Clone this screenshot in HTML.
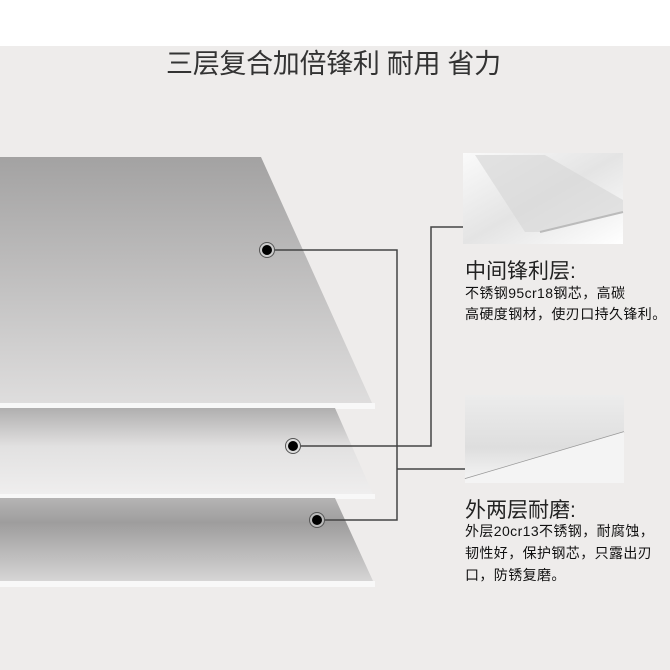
<!DOCTYPE html>
<html><head><meta charset="utf-8"><style>
body{margin:0;width:670px;height:670px;background:#eeeceb;position:relative;overflow:hidden;font-family:"Liberation Sans","Noto Sans CJK SC",sans-serif;}
.t{position:absolute;color:#222;white-space:nowrap}
</style></head><body>
<div style="position:absolute;left:0;top:0;width:670px;height:46px;background:#fff"></div>
<div class="t" style="left:166px;top:42px;font-size:27px;color:#333;letter-spacing:-0.3px">三层复合加倍锋利 耐用 省力</div>
<svg width="670" height="670" style="position:absolute;left:0;top:0">
<defs>
<linearGradient id="g1" x1="0" y1="0" x2="0" y2="1"><stop offset="0" stop-color="#a3a2a2"/><stop offset="1" stop-color="#dedddd"/></linearGradient>
<linearGradient id="g2" x1="0" y1="0" x2="0" y2="1"><stop offset="0" stop-color="#b0afaf"/><stop offset="0.45" stop-color="#e2e1e1"/><stop offset="1" stop-color="#efeeee"/></linearGradient>
<linearGradient id="g3" x1="0" y1="0" x2="0" y2="1"><stop offset="0" stop-color="#b5b4b4"/><stop offset="0.3" stop-color="#9e9d9d"/><stop offset="1" stop-color="#d6d5d5"/></linearGradient>
<linearGradient id="i1" x1="0" y1="0" x2="1" y2="1"><stop offset="0" stop-color="#fafafa"/><stop offset="0.5" stop-color="#e4e4e4"/><stop offset="1" stop-color="#fff"/></linearGradient>
<linearGradient id="i2" x1="0" y1="0" x2="0" y2="1"><stop offset="0" stop-color="#ececec"/><stop offset="0.6" stop-color="#dedede"/><stop offset="1" stop-color="#f6f6f6"/></linearGradient>
</defs>
<rect x="0" y="403" width="375" height="6" fill="#f8f8f8"/>
<rect x="0" y="494" width="375" height="5" fill="#f8f8f8"/>
<rect x="0" y="581" width="375" height="6" fill="#f8f8f8"/>
<polygon points="0,157 261,157 372,403 0,403" fill="url(#g1)"/>
<polygon points="0,408 335,408 373,494 0,494" fill="url(#g2)"/>
<polygon points="0,498 335,498 373,581 0,581" fill="url(#g3)"/>
<g fill="none" stroke="#444" stroke-width="1.5">
<polyline points="267,250 397,250 397,520 317,520"/>
<line x1="397" y1="469" x2="465" y2="469"/>
<polyline points="293,446 431,446 431,227 463,227"/>
</g>
<g>
<circle cx="267" cy="250" r="7.5" fill="#ccc" stroke="#555" stroke-width="1"/><circle cx="267" cy="250" r="5" fill="#000"/>
<circle cx="293" cy="446" r="7.5" fill="#ddd" stroke="#555" stroke-width="1"/><circle cx="293" cy="446" r="5" fill="#000"/>
<circle cx="317" cy="520" r="7.5" fill="#bbb" stroke="#555" stroke-width="1"/><circle cx="317" cy="520" r="5" fill="#000"/>
</g>
<rect x="463" y="153" width="160" height="91" fill="url(#i1)"/>
<polygon points="475,155 545,155 623,200 623,213 540,232 525,232" fill="#d8d8d8" opacity="0.7"/>
<line x1="540" y1="232" x2="623" y2="212" stroke="#bbb" stroke-width="2"/>
<rect x="465" y="395" width="159" height="88" fill="url(#i2)"/>
<line x1="465" y1="479" x2="624" y2="432" stroke="#999" stroke-width="1.5"/>
<polygon points="465,479 624,432 624,483 465,483" fill="#f4f4f4"/>
</svg>
<div class="t" style="left:465px;top:255px;font-size:21px">中间锋利层:</div>
<div class="t" style="left:465px;top:283px;font-size:14px;line-height:21px;letter-spacing:0.4px;color:#111">不锈钢95cr18钢芯，高碳<br>高硬度钢材，使刃口持久锋利。</div>
<div class="t" style="left:465px;top:494px;font-size:21px">外两层耐磨:</div>
<div class="t" style="left:465px;top:520px;font-size:14px;line-height:22px;letter-spacing:0.4px;color:#111">外层20cr13不锈钢，耐腐蚀，<br>韧性好，保护钢芯，只露出刃<br>口，防锈复磨。</div>
</body></html>
